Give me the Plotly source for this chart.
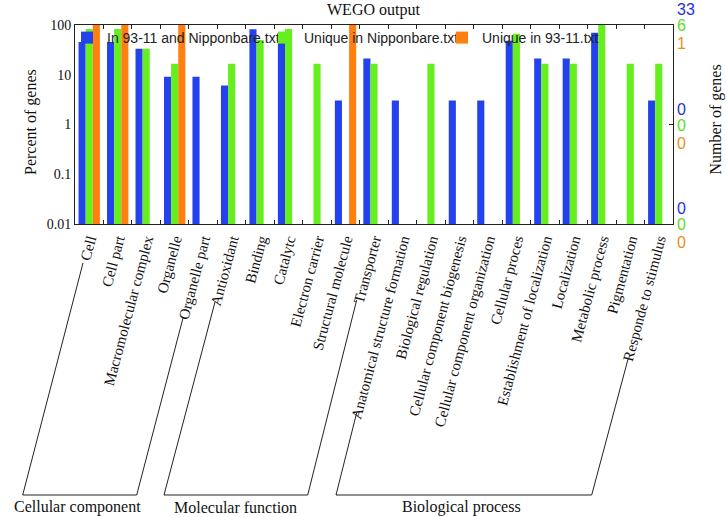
import plotly.graph_objects as go

categories = [
    "Cell", "Cell part", "Macromolecular complex", "Organelle", "Organelle part",
    "Antioxidant", "Binding", "Catalytc", "Electron carrier", "Structural molecule",
    "Transporter", "Anatomical structure formation", "Biological regulation",
    "Cellular component biogenesis", "Cellular component organization",
    "Cellular proces", "Establishment of localization", "Localization",
    "Metabolic process", "Pigmentation", "Responde to stimulus",
]
# percent of genes
both_pct = [45.5, 45.5, 33.3, 9.1, 9.1, 6.1, 81.8, 69.7, None, 3.03, 21.2, 3.03, None,
            3.03, 3.03, 48.5, 21.2, 21.2, 69.7, None, 3.03]
nip_pct = [83.3, 83.3, 33.3, 16.7, None, 16.7, 50.0, 83.3, 16.7, None, 16.7, None, 16.7,
           None, None, 66.7, 16.7, 16.7, 100.0, 16.7, 16.7]
u9311_pct = [100, 100, None, 100, None, None, None, None, None, 100, None, None, None,
             None, None, None, None, None, None, None, None]

series_names = ["In 93-11 and Nipponbare.txt", "Unique in Nipponbare.txt", "Unique in 93-11.txt"]
bar_colors = ["#2342EE", "#66EE1E", "#FF8010"]
label_colors = ["#1E30E0", "#5EDC28", "#E8901C"]

# right axis gene-number labels at 100%, 1%, 0.01%
right_top = ["33", "6", "1"]
right_mid = ["0", "0", "0"]
right_bot = ["0", "0", "0"]

groups = ["Cellular component", "Molecular function", "Biological process"]

W, H = 726, 517
L, R, T, B = 75, 53, 25, 293
PW, PH = W - L - R, H - T - B


def px(xp):
    return (xp - L) / PW


def py(yp):
    return (H - B - yp) / PH


fig = go.Figure()
legends = ["legend", "legend2", "legend3"]
for name, vals, col, lg in zip(series_names, [both_pct, nip_pct, u9311_pct], bar_colors, legends):
    fig.add_trace(go.Bar(x=categories, y=vals, name=name, marker_color=col,
                         marker_line_width=0, legend=lg, showlegend=True))

serif = "Liberation Serif"
sans = "Liberation Sans"

leg_common = dict(orientation="h", bgcolor="rgba(0,0,0,0)", yanchor="top", y=1.0 + 3 / PH,
                  xanchor="left", font=dict(family=sans, size=14, color="#222"),
                  borderwidth=0)

fig.update_layout(
    width=W, height=H, showlegend=True,
    margin=dict(l=L, r=R, t=T, b=B, autoexpand=False),
    paper_bgcolor="white", plot_bgcolor="white",
    barmode="group", bargap=0.25, bargroupgap=0,
    legend=dict(x=px(67), **leg_common),
    legend2=dict(x=px(264), **leg_common),
    legend3=dict(x=px(442), **leg_common),
    xaxis=dict(type="category", tickson="boundaries", ticks="inside", ticklen=4,
               tickcolor="#222", showline=True, linecolor="#222", linewidth=1,
               mirror="ticks", tickangle=-75, showgrid=False, automargin=False,
               tickfont=dict(family=serif, size=15, color="#111")),
    yaxis=dict(type="log", range=[-2, 2], tickvals=[0.01, 0.1, 1, 10, 100],
               ticktext=["0.01", "0.1", "1", "10", "100"], ticks="",
               showline=True, linecolor="#222", linewidth=1, mirror=True,
               showgrid=False, zeroline=False, automargin=False,
               tickfont=dict(family=serif, size=14, color="#111")),
)

ann = []
ann.append(dict(text="WEGO output", xref="paper", yref="paper", x=px(373.5), y=py(10),
                xanchor="center", yanchor="middle", showarrow=False,
                font=dict(family=serif, size=16, color="#111")))
ann.append(dict(text="Percent of genes", xref="paper", yref="paper", x=px(31), y=py(122),
                xanchor="center", yanchor="middle", textangle=-90, showarrow=False,
                font=dict(family=serif, size=16, color="#111")))
ann.append(dict(text="Number of genes", xref="paper", yref="paper", x=px(715.5), y=py(120),
                xanchor="center", yanchor="middle", textangle=-90, showarrow=False,
                font=dict(family=serif, size=16, color="#111")))

offsets = [15.5, -0.5, -18.5]
for labels, yv in zip([right_top, right_mid, right_bot], [1.0, 0.5, 0.0]):
    for lab, col, off in zip(labels, label_colors, offsets):
        ann.append(dict(text=lab, xref="paper", yref="paper", x=1, y=yv, xshift=2,
                        yshift=off, xanchor="left", yanchor="middle", showarrow=False,
                        font=dict(family=sans, size=16, color=col)))

group_centers = [77, 235, 461]
for g, cx in zip(groups, group_centers):
    ann.append(dict(text=g, xref="paper", yref="paper", x=px(cx), y=py(507),
                    xanchor="center", yanchor="middle", showarrow=False,
                    font=dict(family=serif, size=16, color="#111")))
fig.update_layout(annotations=ann)

brackets = [
    [(83, 263), (22.7, 495), (136.7, 495), (183, 318)],
    [(215, 302), (164, 495), (307.7, 495), (356.7, 300)],
    [(356.7, 412.7), (336, 495), (591.7, 495), (628.3, 358)],
]
shapes = []
for pts in brackets:
    for (x0, y0), (x1, y1) in zip(pts[:-1], pts[1:]):
        shapes.append(dict(type="line", xref="paper", yref="paper",
                           x0=px(x0), y0=py(y0), x1=px(x1), y1=py(y1),
                           line=dict(color="#222", width=1)))
# middle tick on right axis
shapes.append(dict(type="line", xref="paper", yref="paper", x0=1, x1=1 - 4 / PW,
                   y0=0.5, y1=0.5, line=dict(color="#222", width=1)))
fig.update_layout(shapes=shapes)

fig.write_html("out.html", config={"displayModeBar": False},
               post_script="document.body.style.margin='0';document.body.style.padding='0';")
